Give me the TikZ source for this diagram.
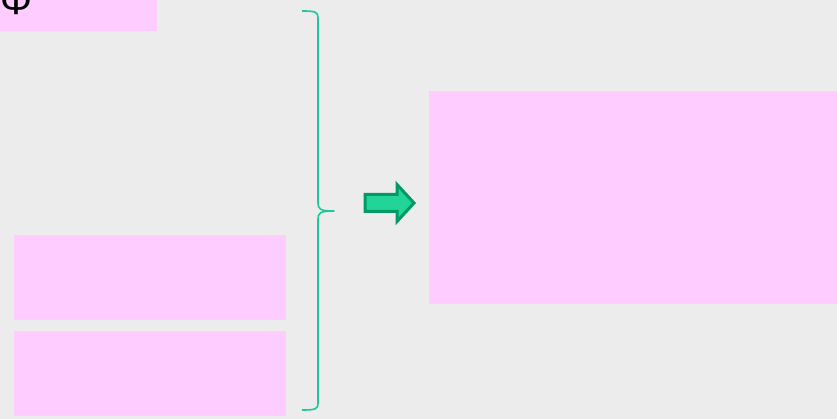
\documentclass[tikz,border=0pt]{standalone}
\usepackage{fontspec}
\setmainfont{Liberation Sans}
\definecolor{bgpaper}{RGB}{236,236,236}
\definecolor{pinkbox}{RGB}{255,204,255}
\definecolor{bracegreen}{RGB}{28,200,150}
\definecolor{arrowdark}{RGB}{0,153,104}
\definecolor{arrowlight}{RGB}{34,212,152}
\tikzset{
  pinkrect/.style={fill=pinkbox, draw=none, inner sep=0pt, anchor=north west},
  bracestyle/.style={draw=bracegreen, line width=1.6pt, line join=round},
  bigarrow/.style={fill=arrowlight, draw=arrowdark, line width=3pt, line join=miter}
}
\begin{document}
\begin{tikzpicture}[x=1pt,y=-1pt]
\fill[bgpaper] (0,0) rectangle (837,419);
\useasboundingbox (0,0) rectangle (837,419);
\clip (0,0) rectangle (837,419);
\node[pinkrect, minimum width=157pt, minimum height=31pt] (topbox) at (0,0) {};
\node[pinkrect, minimum width=272pt, minimum height=85pt] (midbox) at (14,235) {};
\node[pinkrect, minimum width=272pt, minimum height=85pt] (lowbox) at (14,331) {};
\node[pinkrect, minimum width=408pt, minimum height=213pt] (rightbox) at (429,91) {};
\node[anchor=base west, inner sep=0pt, font=\fontsize{40}{42}\selectfont] (phi) at (0,15) {Φ};
\coordinate (btop) at (302,11);
\coordinate (bmid) at (334,211);
\coordinate (bbot) at (302,410);
\draw[bracestyle] (btop) .. controls (316,11) and (318,12) .. (318,18)
  -- (318,203) .. controls (318,209) and (320,211) .. (bmid)
  .. controls (320,211) and (318,213) .. (318,219)
  -- (318,403) .. controls (318,409) and (316,410) .. (bbot);
\draw[bigarrow] (365,194.5) -- (397,194.5) -- (397,184.5) -- (414,203)
  -- (397,221.5) -- (397,211.5) -- (365,211.5) -- cycle;
\end{tikzpicture}
\end{document}
